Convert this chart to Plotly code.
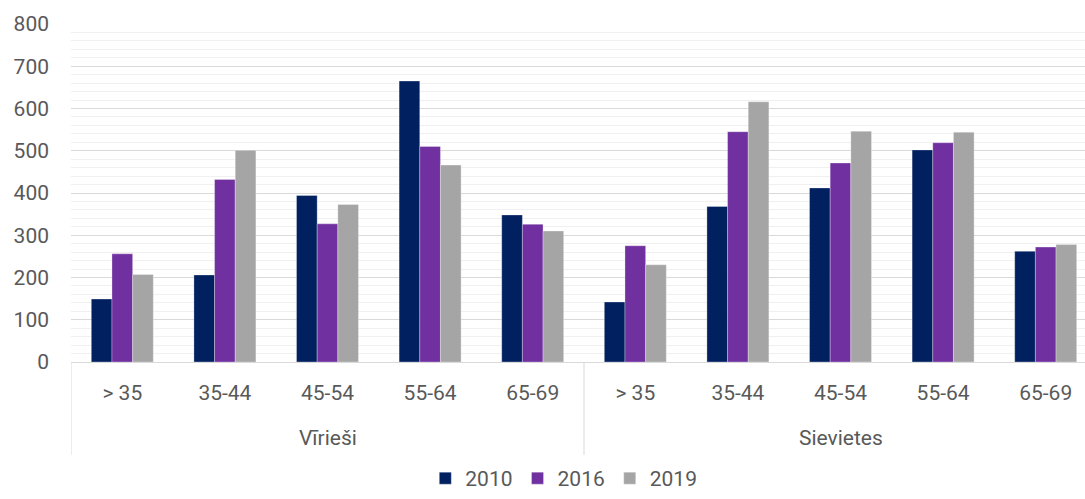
import plotly.graph_objects as go

age_groups = ["> 35", "35-44", "45-54", "55-64", "65-69"]
genders = ["Vīrieši", "Sievietes"]
years = ["2010", "2016", "2019"]

vals_2010 = [149, 206, 394, 665, 348, 142, 368, 412, 502, 262]
vals_2016 = [256, 432, 327, 510, 326, 275, 545, 471, 519, 272]
vals_2019 = [207, 501, 373, 466, 310, 230, 616, 546, 544, 278]

colors = ["#002060", "#7030A0", "#A5A5A5"]

categories = age_groups * len(genders)
xpos = list(range(len(categories)))

fig = go.Figure()
for name, vals, col in zip(years, [vals_2010, vals_2016, vals_2019], colors):
    fig.add_trace(go.Bar(
        x=xpos, y=vals, name=name,
        marker=dict(color=col, line=dict(color="rgba(255,255,255,0.5)", width=0.6)),
    ))

font_fam = "Roboto, Liberation Sans, sans-serif"
txt_col = "#595959"
fs = 21

fig.update_layout(
    width=1085, height=499,
    margin=dict(l=71, r=0, t=24, b=137, autoexpand=False),
    paper_bgcolor="white", plot_bgcolor="white",
    barmode="group", bargap=0.396, bargroupgap=0,
    font=dict(family=font_fam, size=fs, color=txt_col),
    showlegend=True,
    legend=dict(orientation="h", x=0.486, xanchor="center",
                yref="container", y=0.0, yanchor="bottom",
                font=dict(size=fs, color=txt_col), itemwidth=30, traceorder="normal"),
)

fig.update_xaxes(
    range=[-0.5, 9.383], automargin=False,
    tickmode="array", tickvals=xpos, ticktext=categories,
    showgrid=False, zeroline=False,
    showline=True, linecolor="#D9D9D9", linewidth=1,
    ticks="", ticklabelstandoff=12,
    tickfont=dict(size=fs, color=txt_col),
)
fig.update_yaxes(
    range=[0, 800], tickmode="linear", dtick=100, automargin=False,
    showgrid=True, gridcolor="#D9D9D9", gridwidth=1,
    minor=dict(dtick=20, showgrid=True, gridcolor="#F0F0F0", gridwidth=1),
    zeroline=False, showline=False,
    ticks="", ticklabelstandoff=21,
    tickfont=dict(size=fs, color=txt_col),
)

# group dividers and group labels
n = len(age_groups)
for g in range(len(genders) + 1):
    xd = -0.5 + g * n
    fig.add_shape(type="line", xref="x", yref="paper", x0=xd, x1=xd, y0=0, y1=-0.275,
                  line=dict(color="#D9D9D9", width=1))
for g, gname in enumerate(genders):
    fig.add_annotation(x=g * n + (n - 1) / 2, y=-0.225, xref="x", yref="paper",
                       text=gname, showarrow=False, yanchor="middle",
                       font=dict(size=fs, color=txt_col))

fig.write_html("out.html", config={"displayModeBar": False},
               post_script="document.body.style.margin='0px';")
